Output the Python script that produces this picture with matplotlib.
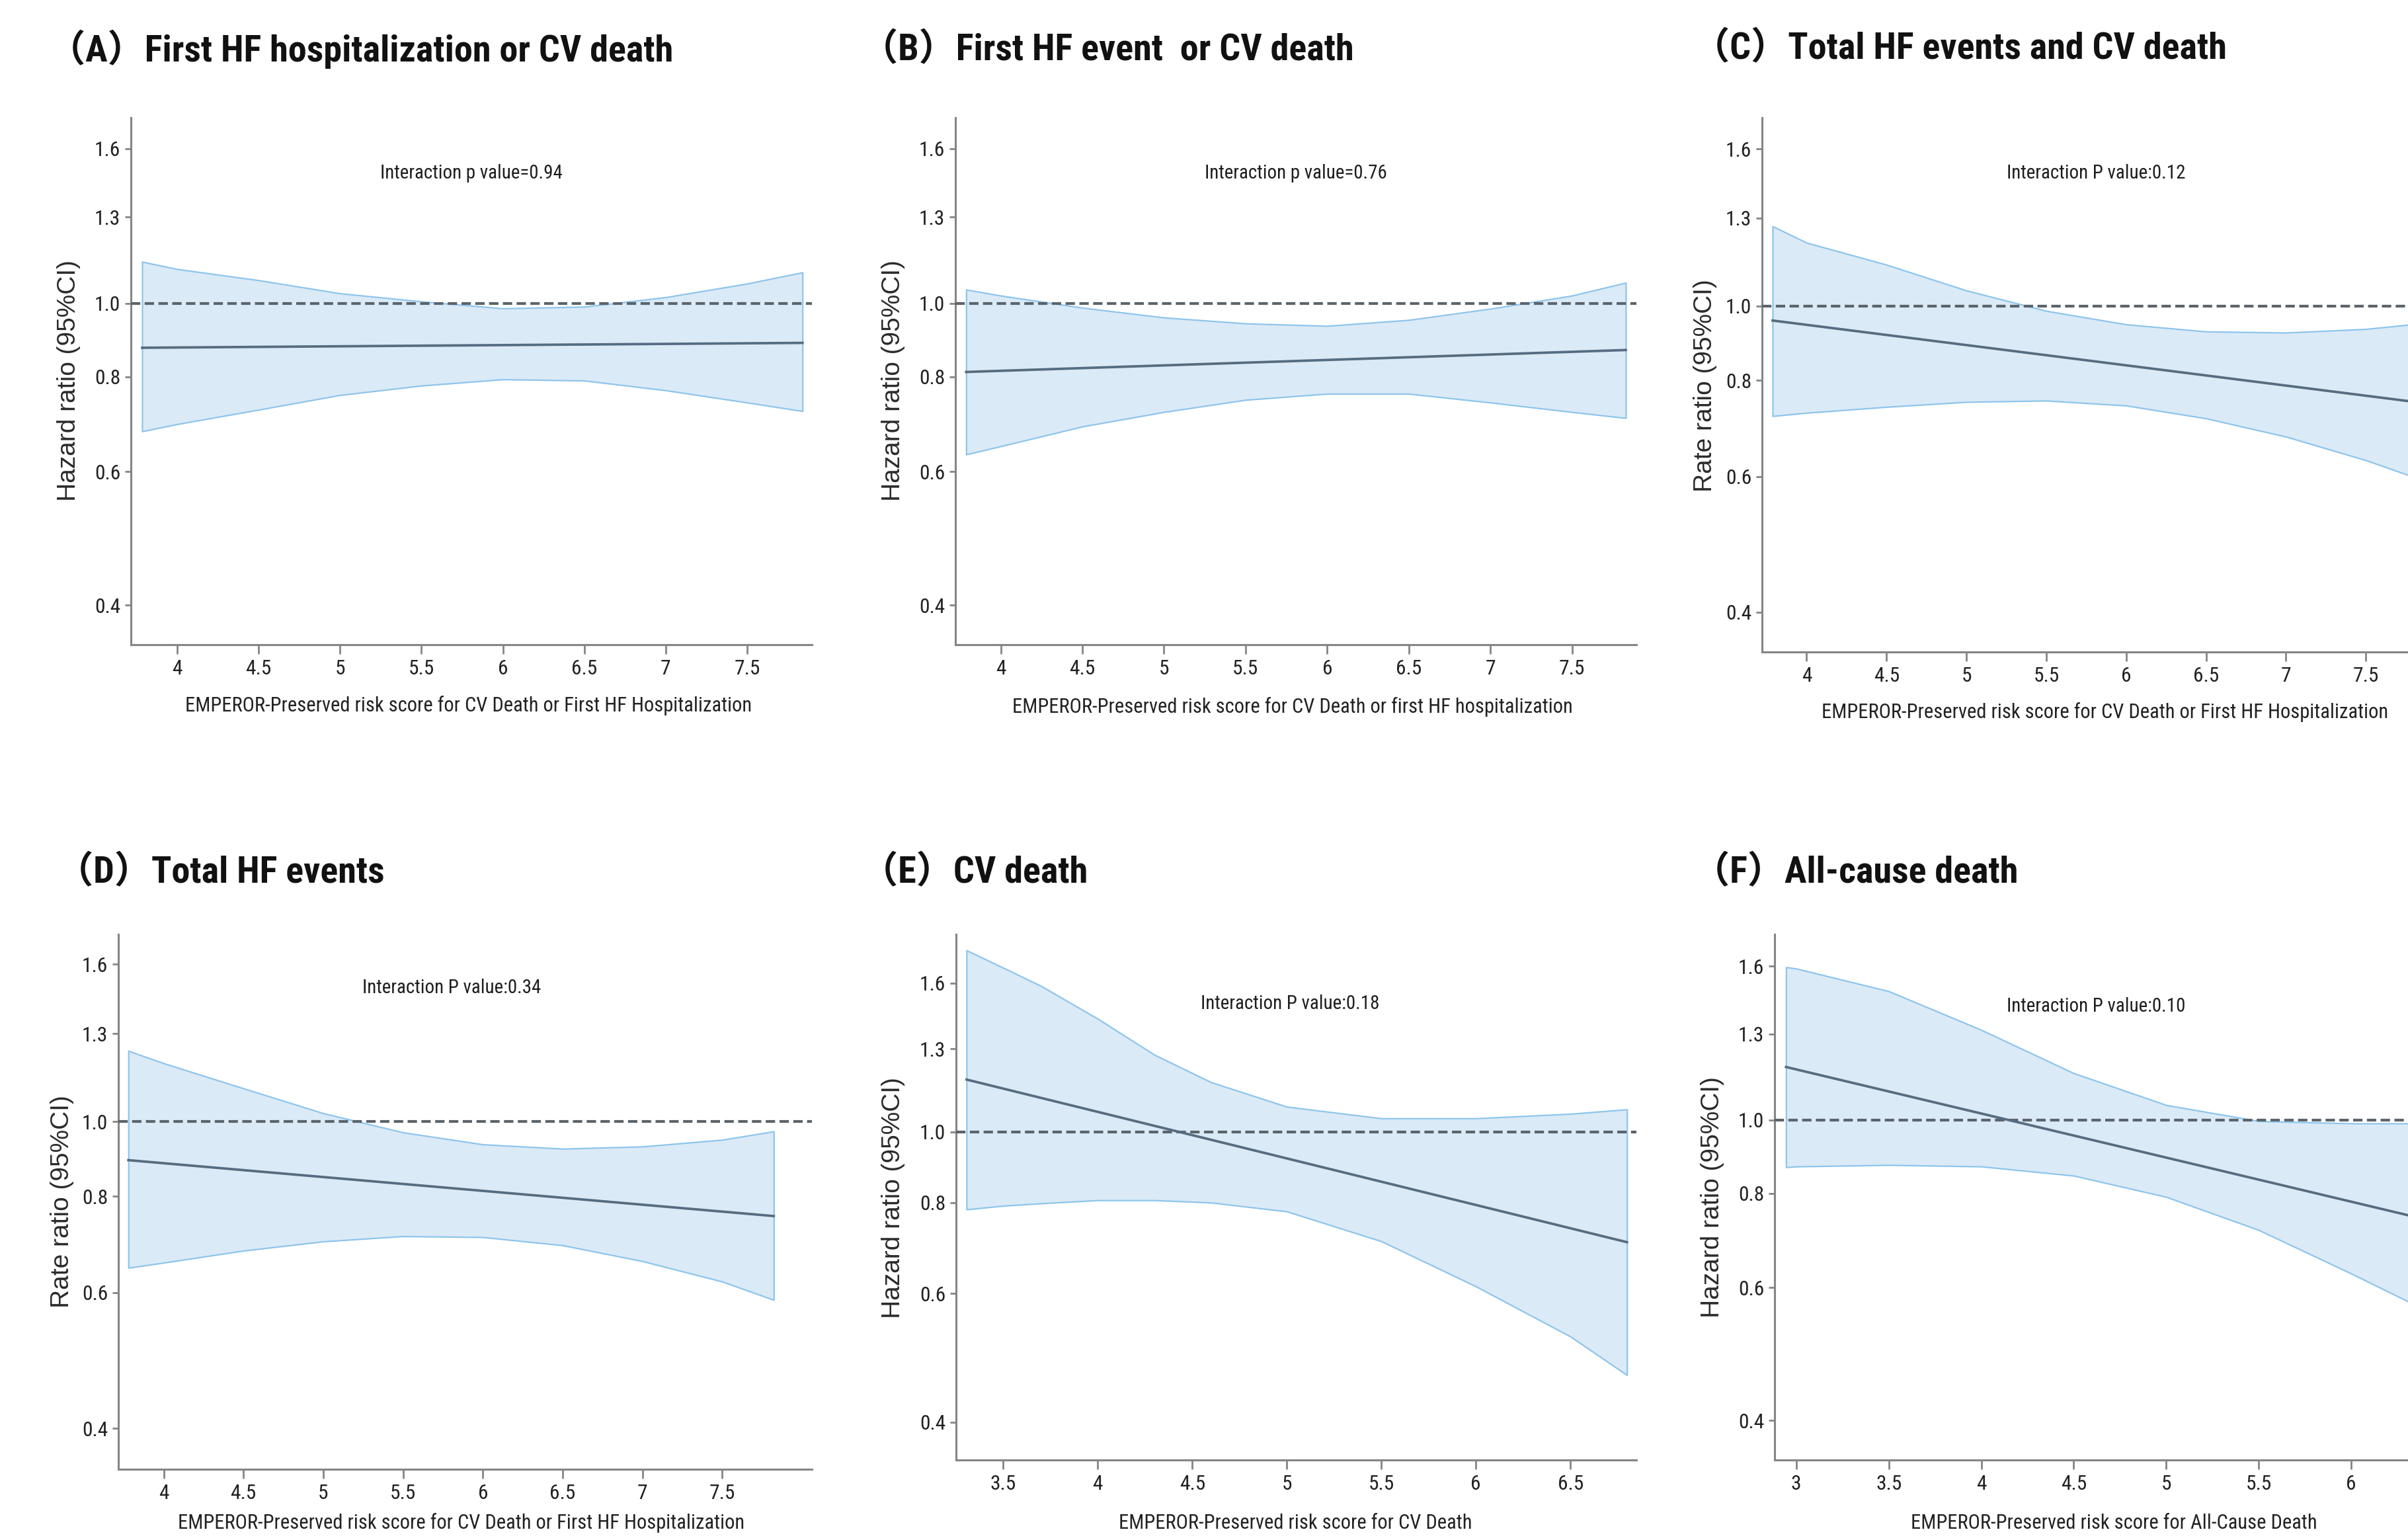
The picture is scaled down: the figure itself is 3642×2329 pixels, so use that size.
import matplotlib
matplotlib.use('Agg')
import matplotlib.pyplot as plt
import matplotlib.font_manager as fm
from matplotlib.ticker import FixedLocator, FixedFormatter, NullLocator

W, H = 3642, 2329

# ---- data (x = risk score, y = ratio) ----
a_x = [3.785, 4.0, 4.5, 5.0, 5.5, 6.0, 6.5, 7.0, 7.5, 7.84]
a_hi = [1.135, 1.110, 1.073, 1.031, 1.006, 0.985, 0.990, 1.019, 1.062, 1.099]
a_lo = [0.678, 0.693, 0.724, 0.757, 0.779, 0.794, 0.791, 0.768, 0.740, 0.721]
a_mid = [0.874, 0.887]

b_x = [3.788, 4.0, 4.5, 5.0, 5.5, 6.0, 6.5, 7.0, 7.5, 7.83]
b_hi = [1.043, 1.024, 0.987, 0.958, 0.941, 0.934, 0.951, 0.984, 1.024, 1.065]
b_lo = [0.632, 0.648, 0.688, 0.719, 0.746, 0.760, 0.760, 0.740, 0.719, 0.706]
b_mid = [0.812, 0.868]

c_x = [3.787, 4.0, 4.5, 5.0, 5.5, 6.0, 6.5, 7.0, 7.5, 7.83]
c_hi = [1.269, 1.208, 1.131, 1.047, 0.985, 0.946, 0.926, 0.923, 0.933, 0.948]
c_lo = [0.719, 0.726, 0.739, 0.750, 0.753, 0.742, 0.714, 0.676, 0.630, 0.596]
c_mid = [0.957, 0.749]

d_x = [3.779, 4.0, 4.5, 5.0, 5.5, 6.0, 6.5, 7.0, 7.5, 7.823]
d_hi = [1.235, 1.190, 1.104, 1.025, 0.968, 0.934, 0.922, 0.928, 0.947, 0.971]
d_lo = [0.646, 0.656, 0.680, 0.699, 0.710, 0.708, 0.691, 0.659, 0.620, 0.587]
d_mid = [0.891, 0.754]

e_x = [3.306, 3.5, 3.7, 4.0, 4.3, 4.6, 5.0, 5.5, 6.0, 6.5, 6.799]
e_hi = [1.775, 1.680, 1.586, 1.430, 1.276, 1.170, 1.083, 1.044, 1.044, 1.059, 1.074]
e_lo = [0.783, 0.792, 0.798, 0.806, 0.806, 0.800, 0.778, 0.708, 0.614, 0.524, 0.464]
e_mid = [1.180, 0.706]

f_x = [2.945, 3.0, 3.5, 4.0, 4.5, 5.0, 5.5, 6.0, 6.5, 6.8]
f_hi = [1.595, 1.588, 1.482, 1.317, 1.154, 1.047, 0.997, 0.990, 0.990, 0.995]
f_lo = [0.866, 0.868, 0.872, 0.868, 0.844, 0.791, 0.715, 0.626, 0.545, 0.500]
f_mid = [1.176, 0.700]

y_ticks = [0.4, 0.6, 0.8, 1.0, 1.3, 1.6]
y_labels = ['0.4', '0.6', '0.8', '1.0', '1.3', '1.6']
x_ticks_a = [4, 4.5, 5, 5.5, 6, 6.5, 7, 7.5]
x_ticks_e = [3.5, 4, 4.5, 5, 5.5, 6, 6.5]
x_ticks_f = [3, 3.5, 4, 4.5, 5, 5.5, 6]

titles = ['（A）First HF hospitalization or CV death', '（B）First HF event  or CV death',
          '（C）Total HF events and CV death', '（D）Total HF events', '（E）CV death',
          '（F）All-cause death']
pvals = ['Interaction p value=0.94', 'Interaction p value=0.76', 'Interaction P value:0.12',
         'Interaction P value:0.34', 'Interaction P value:0.18', 'Interaction P value:0.10']
ylabs = ['Hazard ratio (95%CI)', 'Hazard ratio (95%CI)', 'Rate ratio (95%CI)',
         'Rate ratio (95%CI)', 'Hazard ratio (95%CI)', 'Hazard ratio (95%CI)']
xlabs = ['EMPEROR-Preserved risk score for CV Death or First HF Hospitalization',
         'EMPEROR-Preserved risk score for CV Death or first HF hospitalization',
         'EMPEROR-Preserved risk score for CV Death or First HF Hospitalization',
         'EMPEROR-Preserved risk score for CV Death or First HF Hospitalization',
         'EMPEROR-Preserved risk score for CV Death',
         'EMPEROR-Preserved risk score for All-Cause Death']

# pick a narrow face if one is installed, otherwise plain Liberation Sans
have = {f.name for f in fm.fontManager.ttflist}
NARROW, wf = 'Liberation Sans', 1.0
for nm, k in [('Liberation Sans Narrow', 0.82), ('Roboto Condensed', 0.86),
              ('Noto Sans Condensed', 0.88), ('DejaVu Sans Condensed', 0.98)]:
    if nm in have:
        NARROW, wf = nm, k
        break

def fsize(width_pt, height_pt):
    # width_pt: size that matches the reference width in Liberation Sans
    return min(width_pt / wf, height_pt)

TICK = fsize(19.5, 26)
XLAB = fsize(20, 22)
PTXT = fsize(18, 25)
TITLE = fsize(34.8, 42)

# layout in pixels: left, top, right, bottom of axes; xlim; ylim
panels = [
    dict(x=a_x, hi=a_hi, lo=a_lo, mid=a_mid, box=(198, 178, 1228, 975), xlim=(3.716, 7.898),
         ylim=(0.3546, 1.758), xt=x_ticks_a, title=(108, 74), p=(713, 262), yl=(104, 576), xl=(709, 1067)),
    dict(x=b_x, hi=b_hi, lo=b_lo, mid=b_mid, box=(1445, 178, 2475, 975), xlim=(3.722, 7.895),
         ylim=(0.3546, 1.758), xt=x_ticks_a, title=(1337, 74), p=(1960, 262), yl=(1351, 576), xl=(1955, 1069)),
    dict(x=c_x, hi=c_hi, lo=c_lo, mid=c_mid, box=(2665, 178, 3675, 986), xlim=(3.721, 7.90),
         ylim=(0.3549, 1.756), xt=x_ticks_a, title=(2595, 72), p=(3170, 262), yl=(2579, 583), xl=(3184, 1077)),
    dict(x=d_x, hi=d_hi, lo=d_lo, mid=d_mid, box=(179, 1413, 1228, 2222), xlim=(3.716, 8.062),
         ylim=(0.354, 1.749), xt=x_ticks_a, title=(120, 1318), p=(683, 1494), yl=(94, 1817), xl=(698, 2303)),
    dict(x=e_x, hi=e_hi, lo=e_lo, mid=e_mid, box=(1446, 1413, 2475, 2208), xlim=(3.2505, 6.849),
         ylim=(0.3548, 1.867), xt=x_ticks_e, title=(1337, 1318), p=(1951, 1518), yl=(1351, 1812), xl=(1959, 2303)),
    dict(x=f_x, hi=f_hi, lo=f_lo, mid=f_mid, box=(2684, 1413, 3794, 2208), xlim=(2.883, 6.85),
         ylim=(0.3544, 1.763), xt=x_ticks_f, title=(2595, 1318), p=(3170, 1522), yl=(2590, 1811), xl=(3197, 2303)),
]

fig = plt.figure(figsize=(W / 100, H / 100), dpi=100)
fig.patch.set_facecolor('white')

em_title = TITLE * 100 / 72  # px

for i, pn in enumerate(panels):
    l, t, r, b = pn['box']
    ax = fig.add_axes([l / W, 1 - b / H, (r - l) / W, (b - t) / H])
    ax.set_yscale('log')
    ax.set_xlim(*pn['xlim'])
    ax.set_ylim(*pn['ylim'])

    ax.fill_between(pn['x'], pn['lo'], pn['hi'], facecolor='#dbeaf7', edgecolor='#8ec5ec',
                    linewidth=1.6, zorder=2)
    ax.axhline(1.0, color='#5b646c', lw=3.0, linestyle=(0, (3.4, 1.6)), zorder=3)
    ax.plot([pn['x'][0], pn['x'][-1]], pn['mid'], color='#566c80', lw=2.7, zorder=4)

    for s in ['top', 'right']:
        ax.spines[s].set_visible(False)
    for s in ['left', 'bottom']:
        ax.spines[s].set_color('#858585')
        ax.spines[s].set_linewidth(2.2)

    ax.yaxis.set_major_locator(FixedLocator(y_ticks))
    ax.yaxis.set_major_formatter(FixedFormatter(y_labels))
    ax.yaxis.set_minor_locator(NullLocator())
    ax.set_xticks(pn['xt'])
    ax.set_xticklabels(['%g' % v for v in pn['xt']])
    ax.tick_params(axis='y', length=6.5, width=2.0, color='#858585', pad=5,
                   labelsize=TICK, labelcolor='#222222')
    ax.tick_params(axis='x', length=10, width=2.0, color='#858585', pad=6,
                   labelsize=TICK, labelcolor='#222222')
    for lab in ax.get_xticklabels() + ax.get_yticklabels():
        lab.set_fontfamily(NARROW)

    tx, ty = pn['title']
    fig.text((tx - 0.62 * em_title) / W, 1 - ty / H, titles[i], fontsize=TITLE, fontweight='bold',
             color='#111111', family=[NARROW, 'Noto Sans CJK JP'], ha='left', va='center')
    px, py = pn['p']
    fig.text(px / W, 1 - py / H, pvals[i], fontsize=PTXT, color='#1e1e1e', family=NARROW,
             ha='center', va='center')
    yx, yy = pn['yl']
    fig.text(yx / W, 1 - yy / H, ylabs[i], fontsize=28, color='#2a2a2a', family='Liberation Sans',
             rotation=90, ha='center', va='center')
    xx, xy = pn['xl']
    fig.text(xx / W, 1 - xy / H, xlabs[i], fontsize=XLAB, color='#222222', family=NARROW,
             ha='center', va='center')

fig.savefig('out.png', dpi=100, facecolor='white')
